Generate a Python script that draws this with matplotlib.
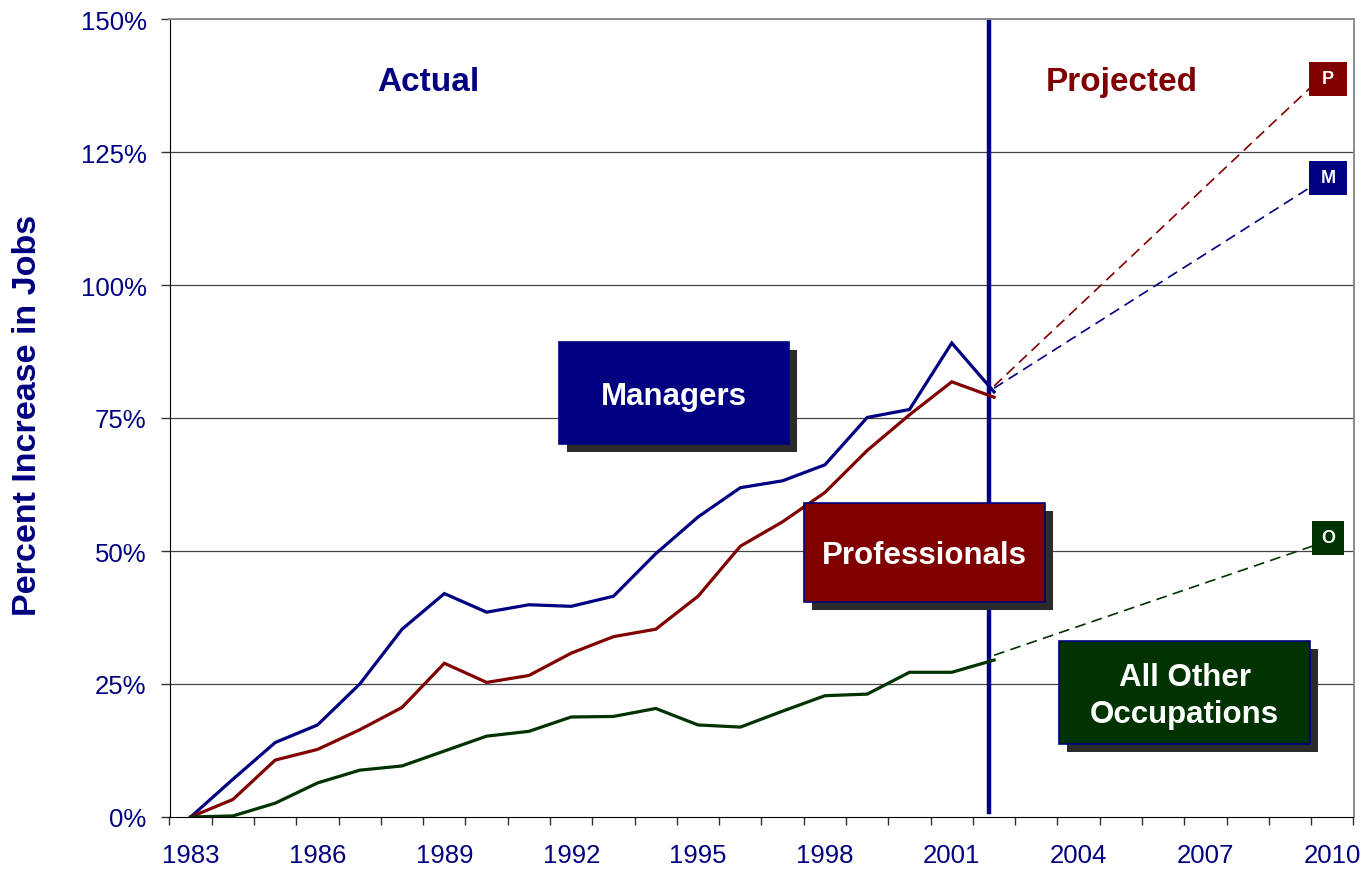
import numpy as np
import matplotlib
matplotlib.use('Agg')
import matplotlib.pyplot as plt
from matplotlib.patches import Rectangle
from matplotlib import transforms

plt.rcParams['font.family'] = ['Liberation Sans', 'DejaVu Sans']

NAVY = '#000080'
MAROON = '#800000'
DKGREEN = '#003300'
SHADOW = '#2b2b2b'

# actual series, percent increase since 1983
years = list(range(1983, 2003))
managers = [0, 7.1, 14.0, 17.3, 25.0, 35.3, 42.0, 38.5, 39.9, 39.6,
            41.5, 49.5, 56.4, 61.9, 63.2, 66.2, 75.1, 76.6, 89.1, 79.9]
professionals = [0, 3.3, 10.7, 12.7, 16.4, 20.6, 28.9, 25.3, 26.6, 30.8,
                 33.9, 35.3, 41.5, 50.9, 55.5, 61.0, 68.9, 75.6, 81.8, 78.9]
others = [0, 0.2, 2.6, 6.4, 8.8, 9.6, 12.4, 15.2, 16.1, 18.8,
          18.9, 20.4, 17.3, 16.9, 19.9, 22.8, 23.1, 27.2, 27.2, 29.5]

# projections to 2010
proj_years = [2002, 2010]
proj_managers = [80.6, 121]
proj_professionals = [81.0, 141]
proj_others = [30.4, 52.2]

split_year = 2001.88

fig = plt.figure(figsize=(13.64, 8.7), dpi=100)
ax = fig.add_axes([169.5 / 1364, 1 - 818 / 870, 1184 / 1364, 798 / 870])
ax.set_xlim(1982.5, 2010.5)
ax.set_ylim(0, 150)

# grid
for v in range(25, 150, 25):
    ax.axhline(v, color='#444444', lw=0.9, zorder=1)

# divider between actual and projected
ax.axvline(split_year, ymin=0.0066, ymax=1, color=NAVY, lw=3.2, zorder=2)

ax.plot(years, managers, color=NAVY, lw=2.3, zorder=3, solid_joinstyle='miter')
ax.plot(years, professionals, color=MAROON, lw=2.3, zorder=3, solid_joinstyle='miter')
ax.plot(years, others, color=DKGREEN, lw=2.3, zorder=3, solid_joinstyle='miter')

for vals, c in [(proj_professionals, MAROON), (proj_managers, NAVY), (proj_others, DKGREEN)]:
    ax.plot(proj_years, vals, color=c, lw=1.2, dashes=(6.5, 3.8), zorder=3)

# boxed labels with drop shadow
shadow = ax.transData + transforms.ScaledTranslation(0.08, -0.08, fig.dpi_scale_trans)


def label_box(x0, x1, y0, y1, color, text):
    ax.add_patch(Rectangle((x0, y0), x1 - x0, y1 - y0, facecolor=SHADOW,
                           edgecolor='none', transform=shadow, zorder=4))
    ax.add_patch(Rectangle((x0, y0), x1 - x0, y1 - y0, facecolor=color,
                           edgecolor=NAVY, lw=1.2, zorder=5))
    ax.text((x0 + x1) / 2, (y0 + y1) / 2 - 0.5, text, color='white', fontsize=22.5,
            fontweight='bold', ha='center', va='center', zorder=6,
            linespacing=1.3)


label_box(1991.70, 1997.15, 70.1, 89.3, NAVY, 'Managers')
label_box(1997.51, 2003.20, 40.4, 59.0, MAROON, 'Professionals')
label_box(2003.54, 2009.47, 13.7, 33.0, DKGREEN, 'All Other\nOccupations')

# end-point tags
for vals, c, tag, dy, w in [(proj_professionals, MAROON, 'P', -2.2, 0.9),
                            (proj_managers, NAVY, 'M', -0.8, 0.9),
                            (proj_others, DKGREEN, 'O', 0.3, 0.74)]:
    cx, cy = proj_years[-1] - 0.1, vals[-1] + dy
    h = 6.4
    ax.add_patch(Rectangle((cx - w / 2, cy - h / 2), w, h, facecolor=c,
                           edgecolor='none', zorder=5))
    ax.text(cx, cy, tag, color='white', fontsize=13, fontweight='bold',
            ha='center', va='center', zorder=6)

ax.text(1988.62, 138.2, 'Actual', color=NAVY, fontsize=24, fontweight='bold',
        ha='center', va='center')
ax.text(2005.02, 138.2, 'Projected', color=MAROON, fontsize=24, fontweight='bold',
        ha='center', va='center')

# axes styling
ax.set_xticks(range(1983, 2011, 3))
ax.set_xticks(np.arange(1982.5, 2011, 1), minor=True)
ax.tick_params(axis='x', which='major', length=0, pad=19, labelsize=18.5,
               labelcolor=NAVY)
ax.tick_params(axis='x', which='minor', length=6, width=1, color='#333333',
               direction='out')
ax.set_yticks(range(0, 151, 25))
ax.set_yticklabels([f'{v}%' for v in range(0, 151, 25)])
ax.tick_params(axis='y', length=6.5, width=1, color='#333333', pad=10,
               labelsize=18.5, labelcolor=NAVY)

ax.spines['left'].set_color('black')
ax.spines['bottom'].set_color('black')
for s in ['top', 'right']:
    ax.spines[s].set_color('#8c8c8c')
    ax.spines[s].set_linewidth(1.4)

fig.text(28 / 1364, 1 - 415.5 / 870, 'Percent Increase in Jobs', rotation=90,
         color=NAVY, fontsize=24.5, fontweight='bold', ha='center', va='center')

fig.savefig('out.png', dpi=100)
